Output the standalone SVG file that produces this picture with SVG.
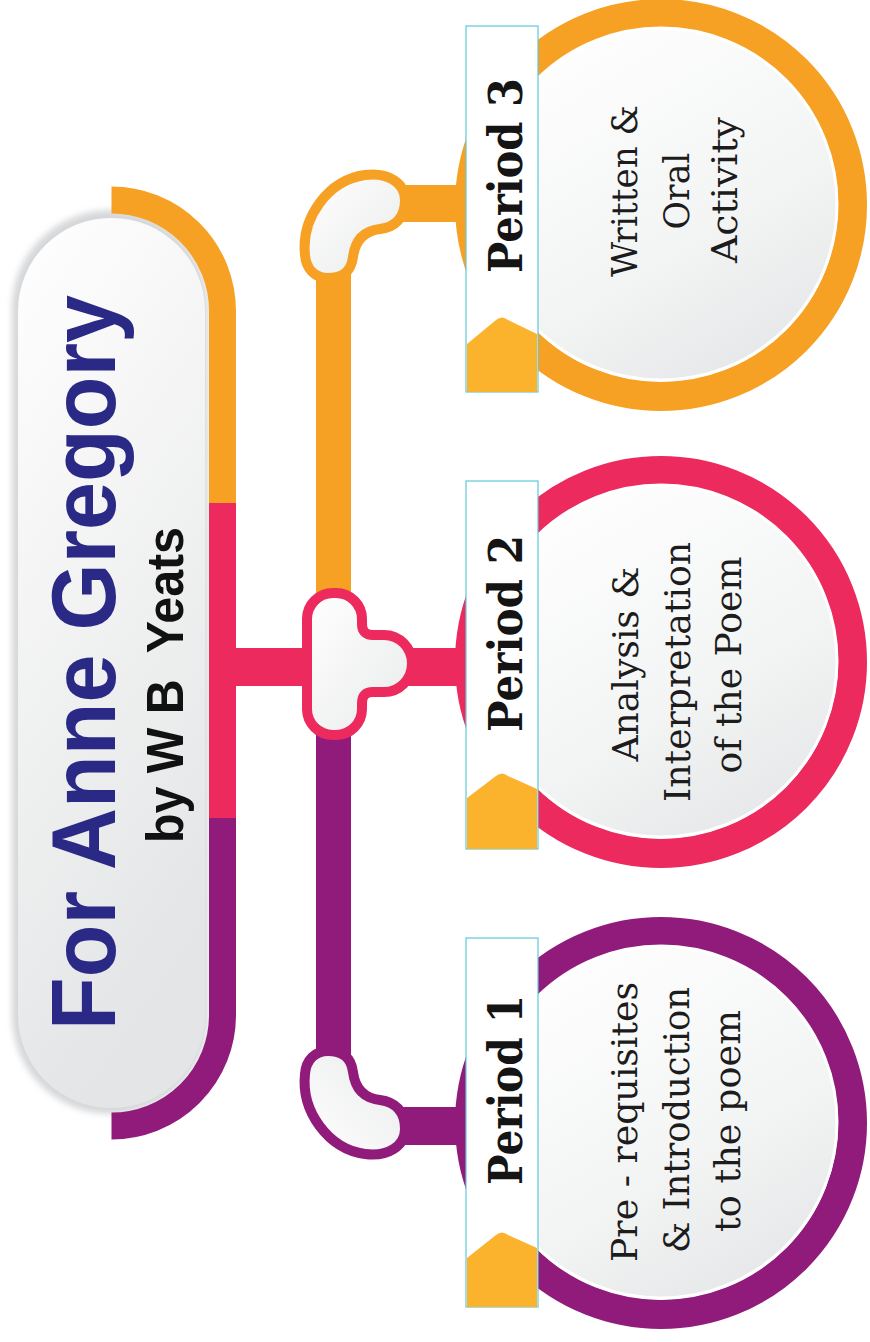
<svg xmlns="http://www.w3.org/2000/svg" width="870" height="1342" viewBox="0 0 870 1342">
<defs>
<linearGradient id="pillGrad" x1="0" y1="0" x2="0.3" y2="1">
<stop offset="0" stop-color="#ffffff"/>
<stop offset="1" stop-color="#e4e5e6"/>
</linearGradient>
<linearGradient id="diskGrad" x1="0.2" y1="0" x2="0.8" y2="1">
<stop offset="0" stop-color="#ffffff"/>
<stop offset="0.6" stop-color="#f3f4f4"/>
<stop offset="1" stop-color="#e5e6e7"/>
</linearGradient>
<linearGradient id="knotGrad" x1="0" y1="0" x2="1" y2="1">
<stop offset="0" stop-color="#ffffff"/>
<stop offset="1" stop-color="#e9eaea"/>
</linearGradient>
<filter id="soft" x="-10%" y="-10%" width="120%" height="120%">
<feGaussianBlur stdDeviation="3"/>
</filter>
</defs>
<style>
.orange{fill:#F6A123}
.pink{fill:#EC2A5E}
.purple{fill:#911B7B}
.band{fill:none;stroke-width:27}
.ring{fill:none;stroke-width:29}
.disk{fill:url(#diskGrad);stroke:#ffffff;stroke-width:3}
.label{fill:#ffffff;stroke:#62C8D8;stroke-width:1.2}
.tab{fill:#FBB32E}
.knot{fill:url(#knotGrad);stroke-width:10}
.ptitle{font-family:"DejaVu Serif",serif;font-weight:bold;font-size:46px;fill:#141414}
.body{font-family:"DejaVu Serif",serif;font-size:35px;fill:#1c1c1c;text-anchor:middle}
.t1{font-family:"Liberation Sans",Arial,sans-serif;font-weight:bold;font-size:90px;fill:#2A2A86}
.t2{font-family:"Liberation Sans",Arial,sans-serif;font-weight:bold;font-size:52px;fill:#111111}
</style>

<g id="title">
<rect x="12" y="210" width="196" height="904" rx="98" fill="#d6d7d9" filter="url(#soft)"/>
<rect x="18" y="218" width="187" height="890" rx="93" fill="url(#pillGrad)"/>
<text class="t1" transform="translate(115,1030) rotate(-90)" textLength="735" lengthAdjust="spacingAndGlyphs">For Anne Gregory</text>
<text class="t2" transform="translate(183,843) rotate(-90)" textLength="316" lengthAdjust="spacingAndGlyphs" xml:space="preserve">by W B  Yeats</text>
</g>

<g id="connectors">
<path class="band" stroke="#F6A123" d="M111.5,200 A111,111 0 0 1 222.5,311 V503"/>
<path class="band" stroke="#EC2A5E" d="M222.5,503 V818"/>
<path class="band" stroke="#911B7B" d="M222.5,818 V1015 A111,111 0 0 1 111.5,1126"/>
<rect class="pink" x="230" y="648" width="245" height="38"/>
<rect class="orange" x="316" y="265" width="35" height="340"/>
<rect class="purple" x="316" y="725" width="35" height="340"/>
<rect class="orange" x="390" y="185" width="80" height="37"/>
<rect class="purple" x="390" y="1107" width="80" height="38"/>
<path id="knot3" class="knot" stroke="#F6A123" d="M305,255 C301,218 328,180 365,175 C388,172 405,183 405,200 C405,218 395,227 380,229 C363,231 355,241 353,257 C351,272 342,278 328,278 C315,278 306,269 305,255 Z"/>
<path id="knot2" class="knot" stroke="#EC2A5E" d="M307,619 A26,26 0 0 1 333,593 H336 A26,26 0 0 1 362,619 V624 Q362,635 373,635 H384 A28,28.5 0 0 1 412,663.5 A28,28.5 0 0 1 384,692 H373 Q362,692 362,703 V709 A26,26 0 0 1 336,735 H333 A26,26 0 0 1 307,709 Z"/>
<path id="knot1" class="knot" stroke="#911B7B" transform="translate(0,1329) scale(1,-1)" d="M305,255 C301,218 328,180 365,175 C388,172 405,183 405,200 C405,218 395,227 380,229 C363,231 355,241 353,257 C351,272 342,278 328,278 C315,278 306,269 305,255 Z"/>
</g>

<g id="period3">
<circle class="ring" stroke="#F6A123" cx="661" cy="205" r="191.5"/>
<circle class="disk" cx="661" cy="204" r="176"/>
<rect class="label" x="466" y="26" width="72" height="366"/>
<path class="tab" d="M467,392 V344 L496,320 Q502,315 508,320 L537,334 V392 Z"/>
<text class="ptitle" transform="translate(522,273) rotate(-90)" textLength="195" lengthAdjust="spacingAndGlyphs">Period 3</text>
<text class="body" transform="translate(637,191) rotate(-90)" textLength="172" lengthAdjust="spacingAndGlyphs">Written &amp;</text>
<text class="body" transform="translate(689,191) rotate(-90)" textLength="77" lengthAdjust="spacingAndGlyphs">Oral</text>
<text class="body" transform="translate(737,190) rotate(-90)" textLength="146" lengthAdjust="spacingAndGlyphs">Activity</text>
</g>

<g id="period2">
<circle class="ring" stroke="#EC2A5E" cx="661" cy="662" r="191.5"/>
<circle class="disk" cx="661" cy="661" r="176"/>
<rect class="label" x="466" y="481" width="72" height="368"/>
<path class="tab" d="M467,849 V798 L496,776 Q502,771 508,776 L537,789 V849 Z"/>
<text class="ptitle" transform="translate(522,732) rotate(-90)" textLength="197" lengthAdjust="spacingAndGlyphs">Period 2</text>
<text class="body" transform="translate(638,664) rotate(-90)" textLength="195" lengthAdjust="spacingAndGlyphs">Analysis &amp;</text>
<text class="body" transform="translate(690,672) rotate(-90)" textLength="260" lengthAdjust="spacingAndGlyphs">Interpretation</text>
<text class="body" transform="translate(741,665) rotate(-90)" textLength="217" lengthAdjust="spacingAndGlyphs">of the Poem</text>
</g>

<g id="period1">
<circle class="ring" stroke="#911B7B" cx="661" cy="1123" r="191.5"/>
<circle class="disk" cx="661" cy="1122" r="176"/>
<rect class="label" x="466" y="938" width="72" height="369"/>
<path class="tab" d="M467,1307 V1258 L496,1235 Q502,1230 508,1235 L537,1248 V1307 Z"/>
<text class="ptitle" transform="translate(522,1185) rotate(-90)" textLength="190" lengthAdjust="spacingAndGlyphs">Period 1</text>
<text class="body" transform="translate(637,1122) rotate(-90)" textLength="280" lengthAdjust="spacingAndGlyphs">Pre - requisites</text>
<text class="body" transform="translate(689,1120) rotate(-90)" textLength="266" lengthAdjust="spacingAndGlyphs">&amp; Introduction</text>
<text class="body" transform="translate(740,1121) rotate(-90)" textLength="222" lengthAdjust="spacingAndGlyphs">to the poem</text>
</g>
</svg>
